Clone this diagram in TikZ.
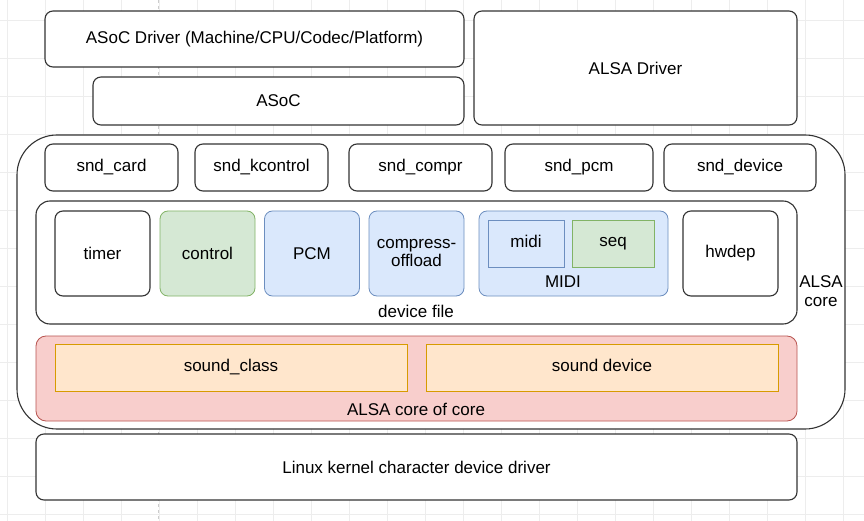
\documentclass[tikz,border=0pt]{standalone}
\usepackage{fontspec}
\setmainfont{Liberation Sans}

\definecolor{gfill}{HTML}{D5E8D4}
\definecolor{gline}{HTML}{82B366}
\definecolor{bfill}{HTML}{DAE8FC}
\definecolor{bline}{HTML}{6C8EBF}
\definecolor{rfill}{HTML}{F8CECC}
\definecolor{rline}{HTML}{B85450}
\definecolor{ofill}{HTML}{FFE6CC}
\definecolor{oline}{HTML}{D79B00}

\tikzset{
  blk/.style={draw=black!80,line width=1.1pt,rounded corners=8pt,inner sep=0pt,
    align=center,fill=white},
  greenblk/.style={blk,fill=gfill,draw=gline,line width=0.8pt},
  blueblk/.style={blk,fill=bfill,draw=bline,line width=0.8pt},
}

\begin{document}
\begin{tikzpicture}[x=1pt,y=-1pt,font=\fontsize{17}{20}\selectfont]

  \useasboundingbox (0,0) rectangle (864,521);

  % canvas grid
  \foreach \gx in {7,45,...,864}
    \draw[black!7,line width=0.6pt] (\gx,0) -- (\gx,521);
  \foreach \gy in {20,58,...,521}
    \draw[black!7,line width=0.6pt] (0,\gy) -- (864,\gy);
  \draw[black!20,dashed,line width=0.6pt] (158,0) -- (158,521);

  % top drivers
  \begin{scope}[every node/.style={blk}]
    \node (asocdrv) at (254.5,39) [minimum width=419,minimum height=56]
      {ASoC Driver (Machine/CPU/Codec/Platform)};
    \node (asoc) at (278.5,101) [minimum width=371,minimum height=48] {ASoC};
    \node (alsadrv) at (635.5,68) [minimum width=323,minimum height=114] {ALSA Driver};
  \end{scope}

  % ALSA core
  \node[blk,rounded corners=40pt,minimum width=828,minimum height=294]
    (core) at (431,282) {};
  \node (corelbl) at (821,291) [align=center,font=\fontsize{17}{19}\selectfont]
    {ALSA\\core};

  \begin{scope}[every node/.style={blk,minimum height=47,text depth=4pt}]
    \node (card) at (111.5,167.5) [minimum width=133] {snd\_card};
    \node (kctl) at (261.5,167.5) [minimum width=133] {snd\_kcontrol};
    \node (compr) at (420.5,167.5) [minimum width=143] {snd\_compr};
    \node (pcm) at (579,167.5) [minimum width=148] {snd\_pcm};
    \node (dev) at (740,167.5) [minimum width=152] {snd\_device};
  \end{scope}

  % device files
  \node[blk,rounded corners=14pt,minimum width=761,minimum height=123]
    (devfile) at (416.5,262.5) {};
  \node (devlbl) at (416,311) {device file};

  \begin{scope}[every node/.style={minimum width=95,minimum height=85}]
    \node[blk] (timer) at (102.5,253.5) {timer};
    \node[greenblk] (ctl) at (207.5,253.5) {control};
    \node[blueblk] (pcmf) at (312,253.5) {PCM};
    \node[blueblk] (offl) at (416.5,253.5) {compress-\\[-2pt]offload};
    \node[blueblk,minimum width=189] (midigrp) at (573.5,253.5) {};
    \node[blk] (hwdep) at (730.5,253.5) {hwdep};
  \end{scope}
  \node[blueblk,rounded corners=0pt,minimum width=76,minimum height=47,text depth=4pt]
    (midi) at (526,243.5) {midi};
  \node[greenblk,rounded corners=0pt,minimum width=82,minimum height=47,text depth=4pt]
    (seq) at (613,243.5) {seq};
  \node (midilbl) at (563,282) {MIDI};

  % core of core
  \node[blk,fill=rfill,draw=rline,line width=0.8pt,rounded corners=10pt,
    minimum width=761,minimum height=85] (cc) at (416.5,378.5) {};
  \node (cclbl) at (416,409) {ALSA core of core};
  \begin{scope}[every node/.style={blk,fill=ofill,draw=oline,line width=0.8pt,
      rounded corners=0pt,minimum width=352,minimum height=47,text depth=4pt}]
    \node (cls) at (231,367.5) {sound\_class};
    \node (sdev) at (602,367.5) {sound device};
  \end{scope}

  % kernel
  \node[blk,minimum width=761,minimum height=66] (chr) at (416.5,467)
    {Linux kernel character device driver};

\end{tikzpicture}
\end{document}
